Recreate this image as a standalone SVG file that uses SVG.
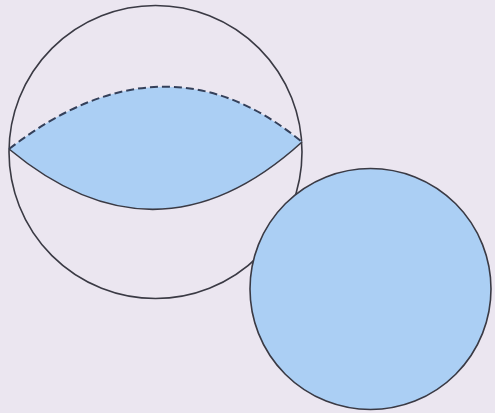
<svg xmlns="http://www.w3.org/2000/svg" width="495" height="413" viewBox="0 0 495 413">
<style>
.outline{fill:none;stroke:#3a3a44;stroke-width:1.6}
.filled{fill:#abcff4;stroke:#3a3a44;stroke-width:1.6}
.dash{fill:none;stroke:#34405a;stroke-width:2;stroke-dasharray:8 4}
</style>
<rect width="495" height="413" fill="#ebe6f0"/>
<g id="sphere">
<circle class="outline" cx="155.5" cy="152" r="146.5"/>
</g>
<g id="lens">
<path d="M9,149 Q165,28 302,142 Q158,273 9,149 Z" fill="#abcff4" stroke="none"/>
<path class="dash" d="M9,149 Q165,28 302,142"/>
<path class="outline" d="M302,142 Q158,273 9,149"/>
</g>
<g id="disk">
<circle class="filled" cx="370.5" cy="289" r="120.5"/>
</g>
</svg>
